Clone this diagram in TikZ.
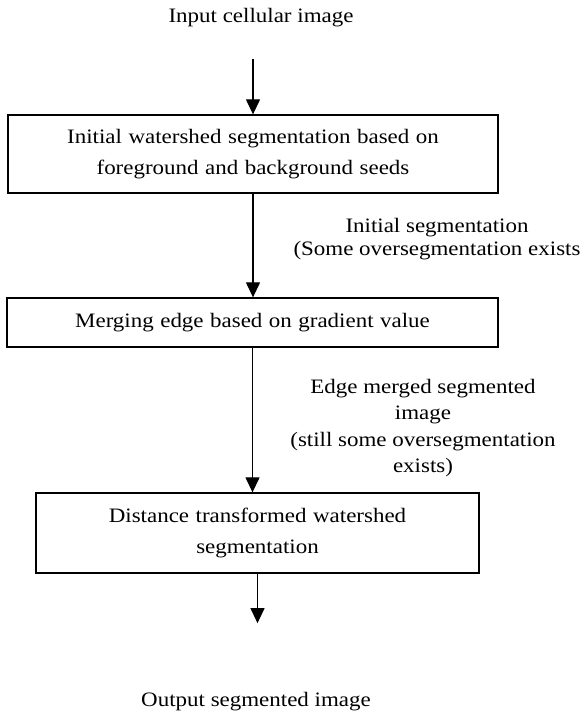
\documentclass[tikz,border=0pt]{standalone}
\usepackage{fontspec}
\setmainfont{Liberation Serif}[FakeStretch=1.12]
\usetikzlibrary{arrows.meta}
\newcommand*{\boxfont}{\fontsize{20.5}{31}\selectfont\spaceskip=6.5pt plus 1pt\relax}

\begin{document}
\begin{tikzpicture}[x=1pt,y=-1pt,
    font=\fontsize{20.5}{31}\selectfont,
    stage/.style={draw,line width=1.3pt,align=center,inner sep=0pt,
      font=\boxfont},
    note/.style={align=center,inner sep=0pt},
    flow/.style={line width=1.2pt,-{Triangle[width=14pt,length=15pt]}}]
  \useasboundingbox (0,0) rectangle (588,717);
  \node (in) at (261,18) {Input cellular image};
  \node[stage,minimum width=490pt,minimum height=78pt] (b1) at (253,154)
    {Initial watershed segmentation based on\\foreground and background seeds};
  \node[note,font=\fontsize{20.5}{23}\selectfont] (n1) at (437,239)
    {Initial segmentation\\(Some oversegmentation exists};
  \node[stage,minimum width=491pt,minimum height=49pt] (b2) at (252.5,322.5)
    {Merging edge based on gradient value};
  \node[note,font=\fontsize{20.5}{26.5}\selectfont] (n2) at (423,428)
    {Edge merged segmented\\image\\(still some oversegmentation\\exists)};
  \node[stage,minimum width=443pt,minimum height=80pt] (b3) at (257.5,533)
    {Distance transformed watershed\\segmentation};
  \node (out) at (256,702) {Output segmented image};
  \draw[flow,shorten <=28pt] (in.south -| b1.north) -- (b1.north);
  \draw[flow] (b1.south) -- (b1.south |- b2.north);
  \draw[flow] (b2.south) -- (b2.south |- b3.north);
  \draw[flow,shorten >=66pt] (b3.south) -- (b3.south |- out.north);
\end{tikzpicture}
\end{document}
